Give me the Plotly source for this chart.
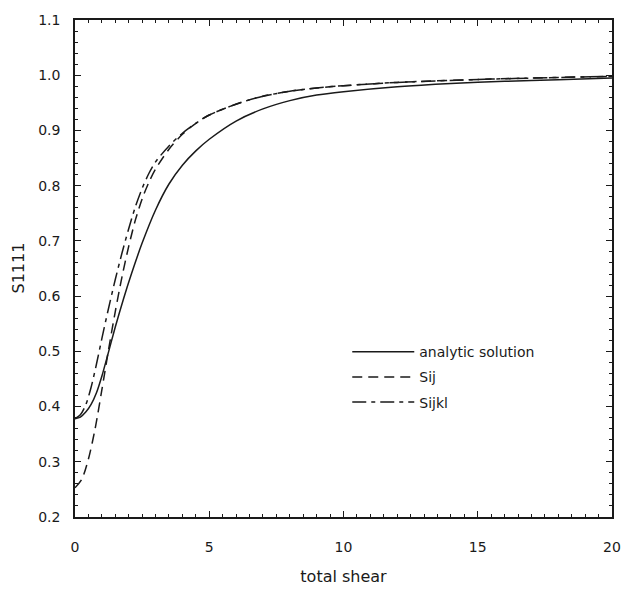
import plotly.graph_objects as go

# --- data ---
analytic_x = [0, 0.2, 0.4, 0.6, 0.8, 1.0, 1.2, 1.5, 1.8, 2.1, 2.5, 3.0, 3.5, 4.0, 4.5, 5, 6, 7, 8, 9, 10, 12, 14, 16, 18, 20]
analytic_y = [0.378, 0.381, 0.390, 0.404, 0.425, 0.455, 0.490, 0.544, 0.594, 0.640, 0.696, 0.756, 0.803, 0.837, 0.863, 0.884,
              0.917, 0.939, 0.954, 0.964, 0.970, 0.979, 0.985, 0.989, 0.992, 0.995]

sij_x = [0, 0.25, 0.5, 0.75, 1.0, 1.25, 1.5, 1.75, 2.0, 2.25, 2.5, 2.75, 3.0, 3.5, 4.0, 4.5, 5, 5.8, 6.4, 7, 8, 9, 10, 12, 15.5, 20]
sij_y = [0.253, 0.268, 0.305, 0.360, 0.430, 0.503, 0.572, 0.635, 0.690, 0.738, 0.776, 0.806, 0.830, 0.866, 0.893, 0.913,
         0.928, 0.944, 0.954, 0.962, 0.971, 0.977, 0.981, 0.987, 0.993, 0.998]

sijkl_x = [0, 0.2, 0.4, 0.6, 0.8, 1.0, 1.25, 1.5, 1.75, 2.0, 2.25, 2.5, 2.75, 3.0, 3.5, 4.0, 4.5, 5, 5.8, 6.4, 7, 8, 9, 10, 12, 15.5, 20]
sijkl_y = [0.378, 0.385, 0.403, 0.435, 0.477, 0.523, 0.578, 0.630, 0.678, 0.722, 0.762, 0.795, 0.822, 0.843, 0.872, 0.895,
           0.913, 0.928, 0.944, 0.954, 0.962, 0.971, 0.977, 0.981, 0.987, 0.993, 0.998]

series_names = ["analytic solution", "Sij", "Sijkl"]
x_ticks = [0, 5, 10, 15, 20]
y_ticks = [0.2, 0.3, 0.4, 0.5, 0.6, 0.7, 0.8, 0.9, 1.0, 1.1]

FONT = "DejaVu Sans, Liberation Sans, Arial, sans-serif"
INK = "#1a1a1a"

fig = go.Figure()
fig.add_trace(go.Scatter(x=analytic_x, y=analytic_y, mode="lines", name=series_names[0], legendgroup="a",
                         line=dict(color=INK, width=1.5, shape="spline", smoothing=0.8)))
fig.add_trace(go.Scatter(x=sij_x, y=sij_y, mode="lines", name=series_names[1], legendgroup="b",
                         line=dict(color=INK, width=1.5, dash="10px,6px", shape="spline", smoothing=0.8)))
fig.add_trace(go.Scatter(x=sijkl_x, y=sijkl_y, mode="lines", name=series_names[2], legendgroup="c",
                         line=dict(color=INK, width=1.5, dash="14px,5px,4px,5px", shape="spline", smoothing=0.8)))

axis_common = dict(
    showline=True, linecolor=INK, linewidth=1.5, mirror="ticks",
    ticks="inside", ticklen=6, tickwidth=1, tickcolor=INK,
    showgrid=False, zeroline=False,
    tickfont=dict(family=FONT, size=14, color=INK),
)

fig.update_layout(
    width=643, height=595,
    margin=dict(l=75, r=31, t=13, b=77),
    paper_bgcolor="white", plot_bgcolor="white",
    font=dict(family=FONT, size=14, color=INK),
    xaxis=dict(range=[0, 20], tickvals=x_ticks, ticktext=[str(v) for v in x_ticks],
               title=dict(text="total shear", font=dict(family=FONT, size=16, color=INK), standoff=17),
               minor=dict(dtick=0.5, ticklen=3, ticks="inside", tickcolor=INK, showgrid=False),
               ticklabelstandoff=16,
               **axis_common),
    yaxis=dict(range=[0.2, 1.1], tickvals=y_ticks, ticktext=[f"{v:.1f}" for v in y_ticks],
               minor=dict(dtick=0.02, ticklen=3, ticks="inside", tickcolor=INK, showgrid=False),
               ticklabelstandoff=10,
               **axis_common),
    annotations=[dict(text="S1111", textangle=-90, xref="paper", yref="paper", x=0, y=0.5,
                      xanchor="center", yanchor="middle", xshift=-57, showarrow=False,
                      font=dict(family=FONT, size=16, color=INK))],
    legend=dict(x=0.507, y=0.364, xanchor="left", yanchor="top", bgcolor="rgba(0,0,0,0)",
                font=dict(family=FONT, size=14, color=INK), itemwidth=62,
                traceorder="grouped", tracegroupgap=4),
    showlegend=True,
)

fig.write_html("out.html")
